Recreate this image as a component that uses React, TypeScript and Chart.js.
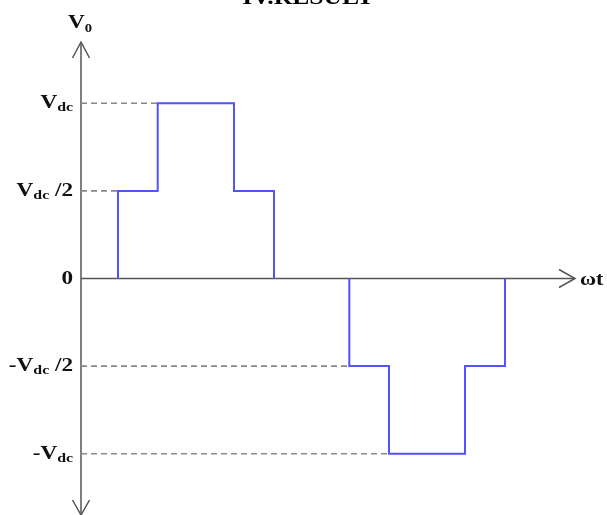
import React, { useEffect, useRef } from "react";
import { Chart, registerables } from "chart.js";

Chart.register(...registerables);

// ωt instants (arbitrary units) where the output voltage switches level
const switchTimes = [0.37, 0.767, 1.53, 1.93, 2.683, 3.08, 3.84, 4.24];
// output level (in units of Vdc) after each switching instant
const levelsAfter = [0.5, 1, 0.5, 0, -0.5, -1, -0.5, 0];
// y-axis tick values and their labels [main, subscript, suffix]
const yTickValues = [1, 0.5, 0, -0.5, -1];
const yTickLabels: string[][] = [
  ["V", "dc", ""],
  ["V", "dc", " /2"],
  ["0", "", ""],
  ["-V", "dc", " /2"],
  ["-V", "dc", ""],
];
// reference (dashed) levels and the switching instant where each is first reached
const dashLevels = [1, 0.5, -0.5, -1];
const dashEndTimes = [0.767, 0.37, 2.683, 3.08];

const titleText = "IV.RESULT";
const yAxisLabel = ["V", "0"];
const xAxisLabel = "ωt";

const X_MIN = 0;
const X_MAX = 4.94;
const Y_MIN = -1.35;
const Y_MAX = 1.35;

const SERIF = '"Liberation Serif", "Times New Roman", serif';
const STRETCH = 1.22;

function drawParts(
  ctx: CanvasRenderingContext2D,
  parts: { t: string; size: number; dy: number }[],
  x: number,
  baseline: number,
  align: "left" | "right" | "center",
  color: string
) {
  ctx.save();
  ctx.fillStyle = color;
  ctx.textBaseline = "alphabetic";
  ctx.textAlign = "left";
  let total = 0;
  const widths = parts.map((p) => {
    ctx.font = `bold ${p.size}px ${SERIF}`;
    const w = ctx.measureText(p.t).width * STRETCH;
    total += w;
    return w;
  });
  let cx = align === "right" ? x - total : align === "center" ? x - total / 2 : x;
  parts.forEach((p, i) => {
    ctx.font = `bold ${p.size}px ${SERIF}`;
    ctx.save();
    ctx.translate(cx, baseline + p.dy);
    ctx.scale(STRETCH, 1);
    ctx.fillText(p.t, 0, 0);
    ctx.restore();
    cx += widths[i];
  });
  ctx.restore();
}

const decorPlugin = {
  id: "decor",
  beforeDatasetsDraw(chart: any) {
    const ctx: CanvasRenderingContext2D = chart.ctx;
    const xs = chart.scales.x;
    const ys = chart.scales.y;
    const x0 = xs.getPixelForValue(0);
    const y0 = ys.getPixelForValue(0);
    const yTop = ys.getPixelForValue(Y_MAX);
    const yBot = ys.getPixelForValue(Y_MIN);
    const xEnd = xs.getPixelForValue(X_MAX);
    ctx.save();
    ctx.strokeStyle = "#555555";
    ctx.lineWidth = 1.5;
    ctx.beginPath();
    // y axis
    ctx.moveTo(x0, yTop);
    ctx.lineTo(x0, yBot);
    // x axis
    ctx.moveTo(x0, y0);
    ctx.lineTo(xEnd, y0);
    ctx.stroke();
    // arrowheads (open chevrons)
    ctx.beginPath();
    ctx.moveTo(x0 - 8.5, yTop + 16);
    ctx.lineTo(x0, yTop);
    ctx.lineTo(x0 + 8.5, yTop + 16);
    ctx.moveTo(x0 - 8.5, yBot - 15);
    ctx.lineTo(x0, yBot);
    ctx.lineTo(x0 + 8.5, yBot - 15);
    ctx.moveTo(xEnd - 16, y0 - 9);
    ctx.lineTo(xEnd, y0);
    ctx.lineTo(xEnd - 16, y0 + 9);
    ctx.stroke();
    ctx.restore();
  },
  afterDraw(chart: any) {
    const ctx: CanvasRenderingContext2D = chart.ctx;
    const xs = chart.scales.x;
    const ys = chart.scales.y;
    const x0 = xs.getPixelForValue(0);
    const y0 = ys.getPixelForValue(0);
    const xEnd = xs.getPixelForValue(X_MAX);
    const yTop = ys.getPixelForValue(Y_MAX);
    // y tick labels
    yTickValues.forEach((v, i) => {
      const py = ys.getPixelForValue(v);
      const [m, s, suf] = yTickLabels[i];
      const parts = [{ t: m, size: 19, dy: 0 }];
      if (s) parts.push({ t: s, size: 13, dy: 3 });
      if (suf) parts.push({ t: suf, size: 19, dy: 0 });
      drawParts(ctx, parts, x0 - 8, py + 5, "right", "#111");
    });
    // axis names
    drawParts(
      ctx,
      [
        { t: yAxisLabel[0], size: 19, dy: 0 },
        { t: yAxisLabel[1], size: 12, dy: 4 },
      ],
      x0 -1,
      yTop - 14,
      "center",
      "#111"
    );
    drawParts(ctx, [{ t: xAxisLabel, size: 18, dy: 0 }], xEnd + 5, y0 + 6, "left", "#111");
    // title (cut off at the top, as in the source)
    drawParts(ctx, [{ t: titleText, size: 21, dy: 0 }], 308, 4, "center", "#000");
  },
};

export default function App() {
  const ref = useRef<HTMLCanvasElement | null>(null);
  useEffect(() => {
    if (!ref.current) return;
    const posHalf = [{ x: switchTimes[0], y: 0 }].concat(
      switchTimes.slice(0, 4).map((t, i) => ({ x: t, y: levelsAfter[i] }))
    );
    const negHalf = [{ x: switchTimes[4], y: 0 }].concat(
      switchTimes.slice(4).map((t, i) => ({ x: t, y: levelsAfter[i + 4] }))
    );
    const dashSets = dashLevels.map((lv, i) => ({
      data: [
        { x: 0, y: lv },
        { x: dashEndTimes[i], y: lv },
      ],
      borderColor: "#888888",
      borderWidth: 1.6,
      borderDash: [6, 4],
      pointRadius: 0,
      fill: false,
    }));
    const stepStyle = {
      borderColor: "#5252ff",
      borderWidth: 2,
      stepped: "before" as const,
      pointRadius: 0,
      fill: false,
    };
    const chart = new Chart(ref.current, {
      type: "line",
      data: {
        datasets: [
          ...dashSets,
          { data: posHalf, ...stepStyle },
          { data: negHalf, ...stepStyle },
        ] as any,
      },
      options: {
        animation: false,
        responsive: false,
        maintainAspectRatio: false,
        layout: { padding: { left: 81, right: 32, top: 42, bottom: 0 } },
        plugins: { legend: { display: false }, tooltip: { enabled: false }, title: { display: false } },
        scales: {
          x: { type: "linear", min: X_MIN, max: X_MAX, display: false },
          y: { type: "linear", min: Y_MIN, max: Y_MAX, display: false },
        },
      },
      plugins: [decorPlugin],
    });
    return () => chart.destroy();
  }, []);
  return (
    <div style={{ position: "absolute", left: 0, top: 0, width: 607, height: 515, background: "#fff" }}>
      <canvas ref={ref} width={607} height={515} style={{ display: "block" }} />
    </div>
  );
}
